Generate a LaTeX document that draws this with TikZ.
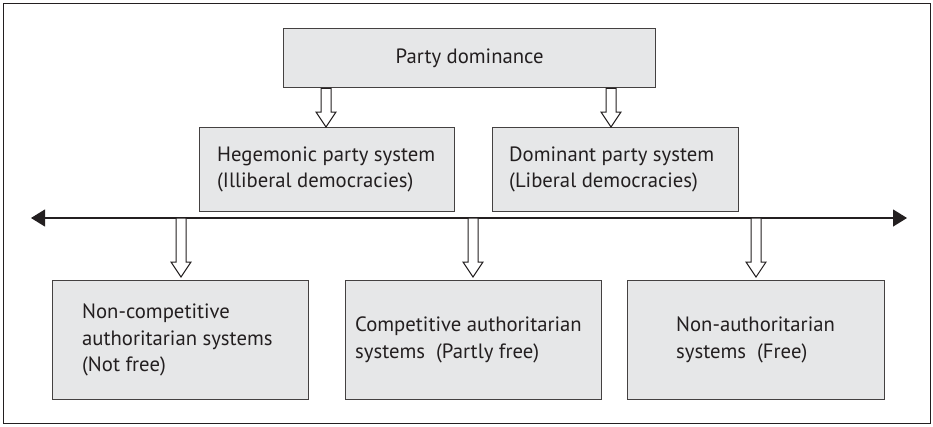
\documentclass[tikz,border=0pt]{standalone}
\usepackage{fontspec}
\setmainfont{PT Sans}
\usetikzlibrary{arrows.meta,calc}
\definecolor{boxfill}{HTML}{E6E7E8}
\definecolor{ink}{HTML}{231F20}
\tikzset{
  box/.style={draw=ink!85, line width=1.3pt, fill=boxfill, inner sep=0pt, anchor=north west},
  lbl/.style={text=ink, font=\fontsize{20.7}{26.5}\selectfont, align=left, anchor=west, inner sep=0pt},
  hollow/.style={draw=ink, line width=1pt, fill=white, line join=miter},
  axisline/.style={draw=ink, line width=1.2pt, {Triangle[length=14pt,width=17pt]}-{Triangle[length=14pt,width=17pt]}}
}
\newcommand\blockarrow[2]{%
  \draw[hollow] ($(#1)+(-5,0)$) -- ($(#2)+(-5,-15)$) -- ($(#2)+(-10,-15)$) -- (#2)
    -- ($(#2)+(10,-15)$) -- ($(#2)+(5,-15)$) -- ($(#1)+(5,0)$) -- cycle;}
\begin{document}
\begin{tikzpicture}[x=1pt,y=-1pt]
\useasboundingbox (0,0) rectangle (933,426);
\node[draw=ink, line width=0.9pt, minimum width=927pt, minimum height=420pt, anchor=north west, inner sep=0pt] (frame) at (3,3) {};
% boxes
\node[box, minimum width=372pt, minimum height=59pt] (top) at (283,28) {};
\node[box, minimum width=255pt, minimum height=84pt] (heg) at (199,127) {};
\node[box, minimum width=246pt, minimum height=84pt] (dom) at (492,127) {};
\node[box, minimum width=256pt, minimum height=119pt] (b1) at (52,280) {};
\node[box, minimum width=256pt, minimum height=119pt] (b2) at (345,280) {};
\node[box, minimum width=257pt, minimum height=119pt] (b3) at (627,280) {};
% labels
\node[lbl, anchor=center] (ttop) at (top.center) {Party dominance};
\node[lbl] (theg) at ($(heg.west)+(18,0)$) {Hegemonic party system\\(Illiberal democracies)};
\node[lbl] (tdom) at ($(dom.west)+(17,0)$) {Dominant party system\\(Liberal democracies)};
\node[lbl] (tb1) at ($(b1.west)+(30,0)$) {Non-competitive\\authoritarian systems\\(Not free)};
\node[lbl] (tb2) at ($(b2.west)+(10,0)$) {Competitive authoritarian\\systems~ (Partly free)};
\node[lbl] (tb3) at ($(b3.west)+(49,0)$) {Non-authoritarian\\systems~ (Free)};
% axis
\coordinate (axL) at (31,218);
\coordinate (axR) at (907,218);
\draw[axisline] (axL) -- (axR);
% top arrows
\coordinate (e1) at (326,127);
\coordinate (e2) at (611,127);
\blockarrow{top.south -| e1}{e1}
\blockarrow{top.south -| e2}{e2}
% bottom arrows
\coordinate (f1) at (181,277);
\coordinate (f2) at (473,277);
\coordinate (f3) at (756,277);
\blockarrow{axL -| f1}{f1}
\blockarrow{axL -| f2}{f2}
\blockarrow{axL -| f3}{f3}
\end{tikzpicture}
\end{document}
